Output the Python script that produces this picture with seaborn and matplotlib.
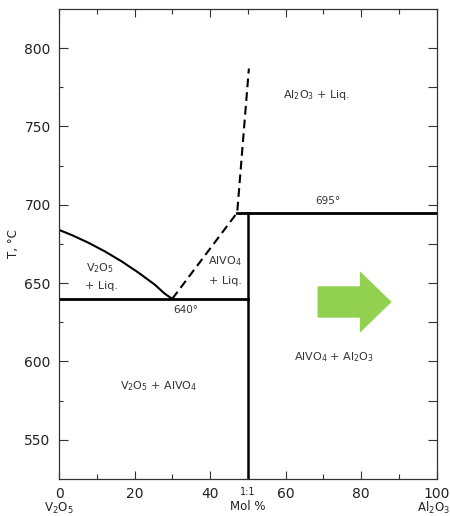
import matplotlib
matplotlib.use("Agg")
import matplotlib.pyplot as plt
from matplotlib.patches import FancyArrow
from matplotlib.transforms import blended_transform_factory
import numpy as np
import pandas as pd
import seaborn as sns

# V2O5-rich liquidus (solid curve)
liq_v2o5_x = [0, 3.4, 7.8, 12.2, 16.6, 21.0, 25.4, 28.0, 30]
liq_v2o5_t = [684.0, 680.7, 675.8, 670.2, 663.9, 656.8, 649.0, 643.3, 640]

# AlVO4 and Al2O3 liquidus (dashed)
liq_alvo4_x = [30, 47.2, 50.3]
liq_alvo4_t = [640, 695, 787]

# Invariant lines and the 1:1 compound
eutectic_x = [0, 50]
eutectic_t = [640, 640]
peritectic_x = [47.2, 100]
peritectic_t = [695, 695]
compound_x = [50, 50]
compound_t = [525, 695]

# Axis ranges and ticks
x_range = (0, 100)
t_range = (525, 825)
x_ticks = [0, 20, 40, 60, 80, 100]
t_ticks = [550, 600, 650, 700, 750, 800]

# Phase field labels: (x, T, text)
field_labels = [
    (68.3, 770, r"Al$_2$O$_3$ + Liq."),
    (10.8, 659.7, r"V$_2$O$_5$"),
    (11.3, 648.5, "+ Liq."),
    (44.0, 664.2, r"AlVO$_4$"),
    (44.0, 651.1, "+ Liq."),
    (26.5, 584.5, r"V$_2$O$_5$ + AlVO$_4$"),
    (72.8, 603.0, r"AlVO$_4$ + Al$_2$O$_3$"),
]
temp_labels = [
    (71.3, 702.5, "695°"),
    (33.6, 633.0, "640°"),
]

# Arrow (data units)
arrow_x, arrow_t = 68.5, 638.0
arrow_len, arrow_body, arrow_head, arrow_head_len = 19.6, 20.0, 39.3, 8.4

ink = "#222222"
plt.rcParams["mathtext.fontset"] = "dejavusans"
plt.rcParams["font.family"] = ["DejaVu Sans"]

fig = plt.figure(figsize=(4.5, 5.16), dpi=100)
ax = fig.add_axes([59 / 450, 1 - 479 / 516, (436.5 - 59) / 450, (479 - 9) / 516])

def draw(xs, ts, **kw):
    df = pd.DataFrame({"x": xs, "T": ts})
    sns.lineplot(data=df, x="x", y="T", sort=False, estimator=None,
                 ax=ax, color="black", **kw)

draw(liq_v2o5_x, liq_v2o5_t, linewidth=1.5)
draw(liq_alvo4_x, liq_alvo4_t, linewidth=1.5, dashes=False,
     linestyle=(0, (4.2, 2.4)))
draw(eutectic_x, eutectic_t, linewidth=2.0)
draw(peritectic_x, peritectic_t, linewidth=2.0)
draw(compound_x, compound_t, linewidth=1.8)

ax.add_patch(FancyArrow(arrow_x, arrow_t, arrow_len, 0, width=arrow_body,
                        head_width=arrow_head, head_length=arrow_head_len,
                        length_includes_head=True, color="#92D050",
                        linewidth=0))

for x, t, s in field_labels:
    ax.text(x, t, s, ha="center", va="center", fontsize=8, color="#333333")
for x, t, s in temp_labels:
    ax.text(x, t, s, ha="center", va="center", fontsize=7.5, color="#333333")

ax.set_xlim(*x_range)
ax.set_ylim(*t_range)
ax.set_xticks(x_ticks)
ax.set_xticks(np.arange(10, 100, 10), minor=True)
ax.set_yticks(t_ticks)
ax.set_yticks(np.arange(575, 800, 50), minor=True)
ax.set_xlabel("")
ax.set_ylabel("T, °C", fontsize=8.5, color=ink, labelpad=3)

for sp in ax.spines.values():
    sp.set_color("#333333")
    sp.set_linewidth(0.9)

ax.tick_params(axis="x", which="major", direction="in", length=5.8, width=0.8,
               top=True, bottom=True, labelsize=10, colors="#333333",
               labelcolor=ink, pad=6)
ax.tick_params(axis="x", which="minor", direction="in", length=3.4, width=0.8,
               top=True, bottom=True, colors="#333333")
ax.tick_params(axis="y", which="major", direction="in", length=6.5, width=0.8,
               left=True, right=False, labelsize=10, colors="#333333",
               labelcolor=ink, pad=6)
ax.tick_params(axis="y", which="minor", direction="in", length=3.0, width=0.8,
               left=True, right=False, colors="#333333")

# Right-hand ticks every 25 degrees, all the same length
ax_r = ax.twinx()
ax_r.set_ylim(*t_range)
ax_r.set_yticks(np.arange(550, 825, 25))
ax_r.set_yticklabels([])
ax_r.tick_params(axis="y", direction="in", length=6.5, width=0.8,
                 colors="#333333")
for sp in ax_r.spines.values():
    sp.set_visible(False)

# Composition annotations below the axis
tr = blended_transform_factory(ax.transData, fig.transFigure)
ax.text(50, 1 - 492 / 516, "1:1", transform=tr, ha="center", va="center",
        fontsize=7, color=ink)
ax.text(50, 1 - 507 / 516, "Mol %", transform=tr, ha="center", va="center",
        fontsize=8.5, color=ink)
ax.text(0, 1 - 508 / 516, r"V$_2$O$_5$", transform=tr, ha="center",
        va="center", fontsize=8.5, color=ink)
ax.text(449.5 / 450, 1 - 508 / 516, r"Al$_2$O$_3$", transform=fig.transFigure,
        ha="right", va="center", fontsize=8.5, color=ink)

fig.savefig("out.png", dpi=100)
